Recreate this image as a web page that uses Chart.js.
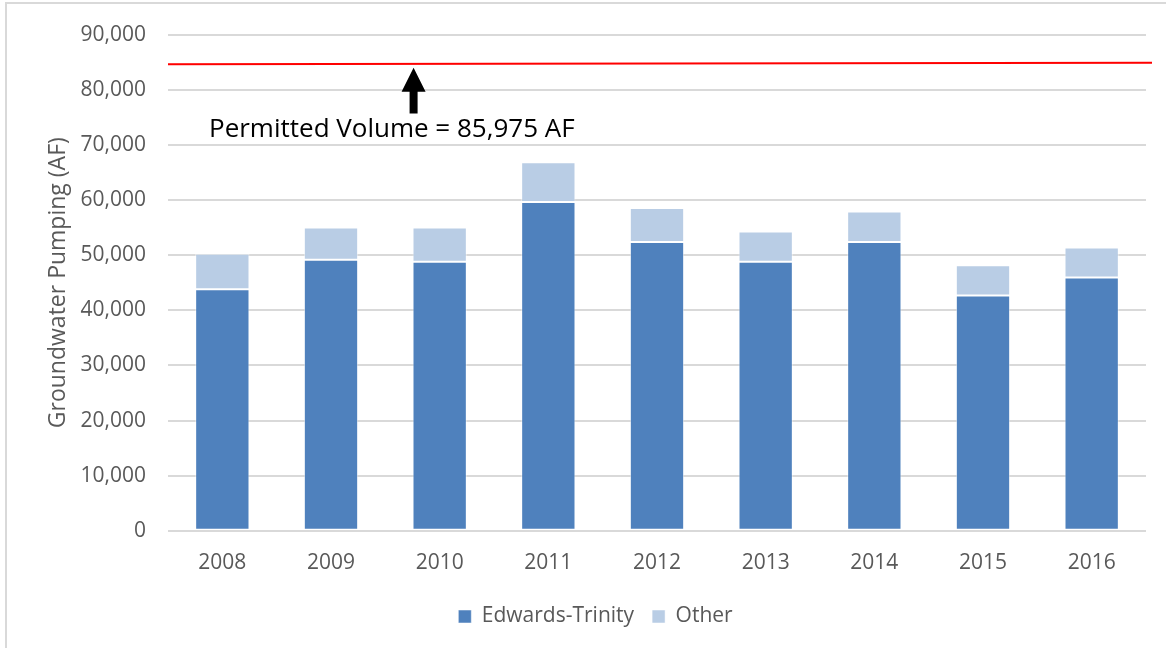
<!DOCTYPE html>
<html>
<head>
<meta charset="utf-8">
<script src="https://cdn.jsdelivr.net/npm/chart.js@4/dist/chart.umd.min.js"></script>
<style>
  html, body { margin: 0; padding: 0; background: #fff; }
  #wrap { position: relative; width: 1166px; height: 648px; }
</style>
</head>
<body>
<div id="wrap"><canvas id="grafico" width="1166" height="648"></canvas></div>
<script>
// dados
const anos = ['2008', '2009', '2010', '2011', '2012', '2013', '2014', '2015', '2016']
const edwardsTrinity = [43800, 49150, 48800, 59650, 52400, 48800, 52400, 42700, 45950]
const outros = [6450, 5850, 6200, 7200, 6150, 5500, 5500, 5450, 5450]
const yTicks = [0, 10000, 20000, 30000, 40000, 50000, 60000, 70000, 80000, 90000]
const linhaPermitida = [84600, 84900] // inicio e fim da linha vermelha
const textoPermitido = 'Permitted Volume = 85,975 AF'
const setaTopo = 84000
const setaBase = 75700
const textoBase = 71450
const setaCategoria = 1.76

const cinza = '#595959'
const fonte = "'Open Sans', sans-serif"

// moldura cinza em volta do grafico
const moldura = {
  id: 'moldura',
  beforeDraw(chart) {
    const c = chart.ctx
    c.save()
    c.strokeStyle = '#d9d9d9'
    c.lineWidth = 2
    c.strokeRect(6, 3, 1200, 700)
    c.restore()
  }
}

// linha vermelha + seta + texto
const anotacao = {
  id: 'anotacao',
  afterDatasetsDraw(chart) {
    const c = chart.ctx
    const y = chart.scales.y
    const x = chart.scales.x
    const area = chart.chartArea
    c.save()
    c.strokeStyle = '#ff0000'
    c.lineWidth = 2
    c.beginPath()
    c.moveTo(area.left, y.getPixelForValue(linhaPermitida[0]))
    c.lineTo(area.right + 6, y.getPixelForValue(linhaPermitida[1]))
    c.stroke()

    // seta
    const xs = x.getPixelForValue(setaCategoria)
    const yt = y.getPixelForValue(setaTopo)
    const yb = y.getPixelForValue(setaBase)
    c.fillStyle = '#000'
    c.beginPath()
    c.moveTo(xs, yt)
    c.lineTo(xs + 12, yt + 24)
    c.lineTo(xs + 4, yt + 24)
    c.lineTo(xs + 4, yb)
    c.lineTo(xs - 4, yb)
    c.lineTo(xs - 4, yt + 24)
    c.lineTo(xs - 12, yt + 24)
    c.closePath()
    c.fill()

    c.font = '26px ' + fonte
    c.textAlign = 'left'
    c.textBaseline = 'alphabetic'
    c.fillText(textoPermitido, area.left + 41, y.getPixelForValue(textoBase))
    c.restore()
  }
}

const ctx = document.getElementById('grafico').getContext('2d')
const grafico = new Chart(ctx, {
  type: 'bar',
  data: {
    labels: anos,
    datasets: [{
      label: 'Edwards-Trinity',
      data: edwardsTrinity,
      backgroundColor: '#4f81bd',
      borderColor: 'rgba(255,255,255,0.5)',
      borderWidth: 1,
      borderSkipped: false
    }, {
      label: 'Other',
      data: outros,
      backgroundColor: '#b9cde5',
      borderColor: 'rgba(255,255,255,0.5)',
      borderWidth: 1,
      borderSkipped: false
    }]
  },
  options: {
    responsive: false,
    animation: false,
    layout: { padding: { left: 45, right: 20, top: 22, bottom: 11 } },
    plugins: {
      tooltip: { enabled: false },
      legend: {
        position: 'bottom',
        labels: {
          color: cinza,
          font: { family: fonte, size: 21 },
          boxWidth: 13,
          boxHeight: 13,
          padding: 18
        }
      }
    },
    datasets: { bar: { barPercentage: 0.5, categoryPercentage: 1 } },
    scales: {
      x: {
        stacked: true,
        grid: { display: false },
        border: { display: false },
        ticks: { color: cinza, font: { family: fonte, size: 21 }, padding: 12 }
      },
      y: {
        stacked: true,
        min: 0,
        max: 90000,
        afterBuildTicks(scale) {
          scale.ticks = yTicks.map(v => ({ value: v }))
        },
        afterFit(scale) { scale.width = 123 },
        grid: { color: '#d9d9d9', lineWidth: 2, drawTicks: false },
        border: { display: false },
        ticks: {
          color: cinza,
          font: { family: fonte, size: 21 },
          padding: 22,
          callback: v => v.toLocaleString('en-US')
        },
        title: {
          display: true,
          text: 'Groundwater Pumping (AF)',
          color: cinza,
          font: { family: fonte, size: 23 },
          padding: 0
        }
      }
    }
  },
  plugins: [moldura, anotacao]
})
</script>
</body>
</html>
